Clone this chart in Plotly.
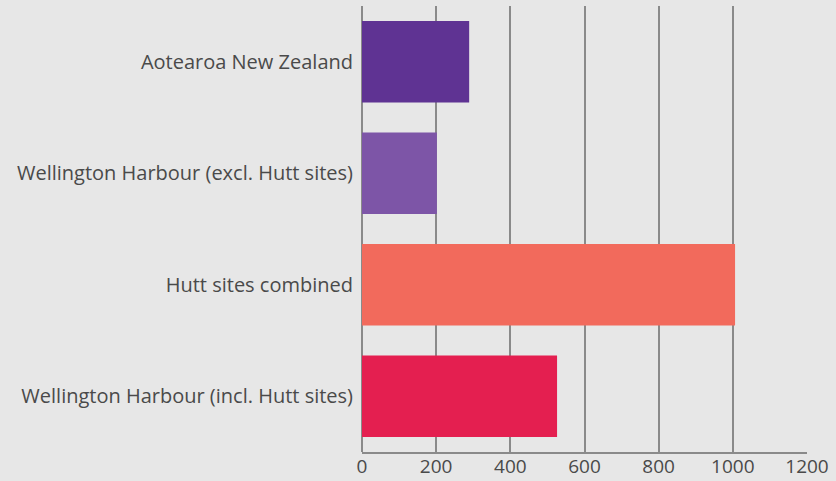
import plotly.graph_objects as go

categories = [
    "Aotearoa New Zealand",
    "Wellington Harbour (excl. Hutt sites)",
    "Hutt sites combined",
    "Wellington Harbour (incl. Hutt sites)",
]
values = [289, 202, 1006, 526]
colors = ["#5f3393", "#7d55a7", "#f26a5c", "#e41f50"]
x_ticks = [0, 200, 400, 600, 800, 1000, 1200]

fig = go.Figure(
    go.Bar(
        y=categories,
        x=values,
        orientation="h",
        marker=dict(color=colors, line=dict(width=0)),
        width=0.73,
    )
)

fig.update_layout(
    width=836,
    height=481,
    margin=dict(l=362, r=29, t=6, b=29),
    paper_bgcolor="#e7e7e7",
    plot_bgcolor="#e7e7e7",
    font=dict(family="Open Sans, sans-serif", color="#4a4a4a"),
    showlegend=False,
    xaxis=dict(
        range=[0, 1200],
        tickvals=x_ticks,
        ticktext=[str(t) for t in x_ticks],
        showgrid=True,
        gridcolor="#8a8a8a",
        gridwidth=2,
        zeroline=True,
        zerolinecolor="#8a8a8a",
        zerolinewidth=2,
        showline=True,
        linecolor="#8a8a8a",
        linewidth=2,
        ticks="",
        automargin=False,
        ticklabelstandoff=-4,
        tickfont=dict(size=19, color="#4a4a4a"),
        fixedrange=True,
    ),
    yaxis=dict(
        autorange="reversed",
        showgrid=False,
        zeroline=False,
        showline=False,
        ticks="",
        automargin=False,
        ticklabelstandoff=8,
        tickfont=dict(size=20, color="#4a4a4a"),
        fixedrange=True,
    ),
    bargap=0.27,
)

fig.write_html(
    "out.html",
    config={"displayModeBar": False},
    post_script="document.body.style.margin='0';document.body.style.overflow='hidden';",
)
